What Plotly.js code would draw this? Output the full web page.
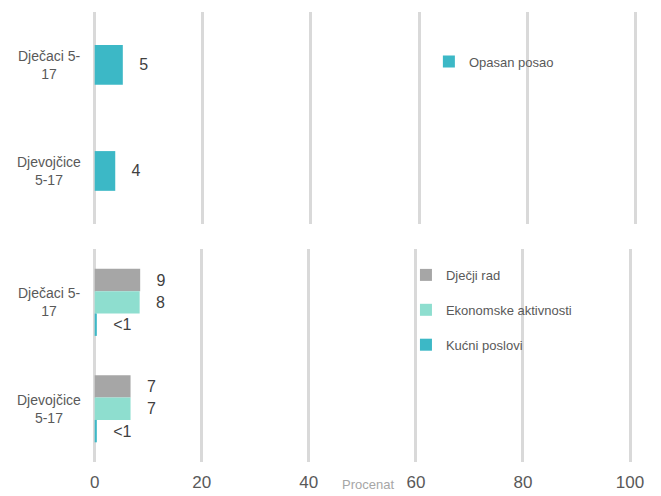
<!DOCTYPE html>
<html>
<head>
<meta charset="utf-8">
<script src="https://cdn.plot.ly/plotly-3.0.1.min.js"></script>
<style>html,body{margin:0;padding:0;background:#fff;}#chart{width:661px;height:496px;}</style>
</head>
<body>
<div id="chart"></div>
<script>
// Categories (top to bottom)
const categories = ["Dječaci 5-17", "Djevojčice 5-17"];
const categoryLabels = ["Dječaci 5-<br>17", "Djevojčice<br>5-17"];

// Top panel: Opasan posao
const opasanValues = [5.2, 3.8];
const opasanLabels = ["5", "4"];

// Bottom panel
const djecjiRadValues = [8.5, 6.7];
const djecjiRadLabels = ["9", "7"];
const ekonomskeValues = [8.4, 6.7];
const ekonomskeLabels = ["8", "7"];
const kucniValues = [0.4, 0.4];
const kucniLabels = ["<1", "<1"];

const xTicks = [0, 20, 40, 60, 80, 100];

const FONT = "Liberation Sans, Arial, sans-serif";
const pad = "\u00a0\u00a0\u00a0";

function barTrace(name, values, labels, color, xa, ya, legendRef, group, width) {
  const t = {
    type: "bar",
    orientation: "h",
    name: name,
    x: values,
    y: categories,
    xaxis: xa,
    yaxis: ya,
    legend: legendRef,
    legendgroup: group,
    marker: {color: color, line: {width: 0}},
    text: labels.map(l => pad + l),
    textposition: "outside",
    texttemplate: "%{text}",
    textfont: {family: FONT, size: 16, color: "#404040"},
    constraintext: "none",
    cliponaxis: false,
    hoverinfo: "skip"
  };
  if (width) t.width = width;
  return t;
}

const data = [
  barTrace("Opasan posao", opasanValues, opasanLabels, "#3CB8C6", "x", "y", "legend", "g0", 0.375),
  barTrace("Dječji rad", djecjiRadValues, djecjiRadLabels, "#A6A6A6", "x2", "y2", "legend2", "g1"),
  barTrace("Ekonomske aktivnosti", ekonomskeValues, ekonomskeLabels, "#8EDECF", "x2", "y2", "legend2", "g2"),
  barTrace("Kućni poslovi", kucniValues, kucniLabels, "#3CB8C6", "x2", "y2", "legend2", "g3")
];

const annotations = [];
categories.forEach((c, i) => {
  ["y", "y2"].forEach(yr => {
    annotations.push({
      text: categoryLabels[i], xref: "paper", x: -0.016, xanchor: "right",
      yref: yr, y: c, yanchor: "middle", showarrow: false, align: "center",
      font: {family: FONT, size: 14, color: "#595959"}
    });
  });
});
annotations.push({
  text: "Procenat", xref: "paper", x: 0.506, xanchor: "center",
  yref: "paper", y: -0.05, yanchor: "middle", showarrow: false,
  font: {family: FONT, size: 13, color: "#A6A6A6"}
});

const xCommon = {
  range: [-0.5, 100.5], tickvals: xTicks, showgrid: true, gridcolor: "#D9D9D9", gridwidth: 3,
  zeroline: false, showline: false, ticks: "", fixedrange: true
};
const yCommon = {
  type: "category", categoryorder: "array", categoryarray: categories,
  autorange: "reversed", showgrid: false, zeroline: false, showline: false,
  showticklabels: false, ticks: ""
};

const layout = {
  width: 661, height: 496,
  margin: {l: 92, r: 23, t: 12, b: 34},
  paper_bgcolor: "#fff", plot_bgcolor: "#fff",
  barmode: "group", bargap: 0.37, bargroupgap: 0,
  showlegend: true,
  font: {family: FONT, color: "#595959"},
  xaxis: Object.assign({}, xCommon, {domain: [0, 1], anchor: "y", showticklabels: false}),
  yaxis: Object.assign({}, yCommon, {domain: [0.529, 1], anchor: "x"}),
  xaxis2: Object.assign({}, xCommon, {domain: [0, 0.9903], anchor: "y2", showticklabels: true,
    tickfont: {family: FONT, size: 17, color: "#595959"}, ticklabelstandoff: 8}),
  yaxis2: Object.assign({}, yCommon, {domain: [0, 0.473], anchor: "x2"}),
  legend: {x: 0.617, xanchor: "left", y: 0.923, yanchor: "top", bgcolor: "rgba(0,0,0,0)",
    font: {family: FONT, size: 13, color: "#595959"}},
  legend2: {x: 0.575, xanchor: "left", y: 0.449, yanchor: "top", bgcolor: "rgba(0,0,0,0)",
    tracegroupgap: 15, traceorder: "grouped",
    font: {family: FONT, size: 13, color: "#595959"}},
  annotations: annotations
};

Plotly.newPlot("chart", data, layout, {staticPlot: true, displayModeBar: false});
</script>
</body>
</html>
